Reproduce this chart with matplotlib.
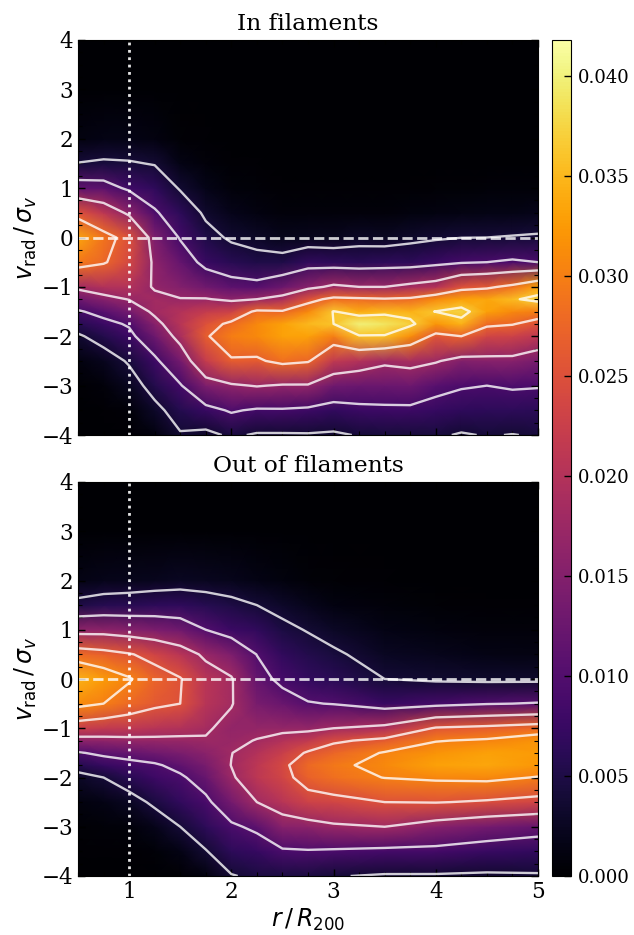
import matplotlib

matplotlib.use("Agg")
import matplotlib.pyplot as plt
import numpy as np
from matplotlib.ticker import MultipleLocator

plt.rcParams["font.family"] = "DejaVu Serif"

# velocity rows shared by both panels
v_grid = [-4, -3.5, -3, -2.5, -2, -1.75, -1.5, -1.25, -1, -0.5, 0, 0.5, 1, 1.5, 2, 3, 4]

r_top = [0.5, 0.75, 1, 1.25, 1.5, 1.75, 2, 2.25, 2.5, 2.75, 3, 3.25, 3.5, 3.75, 4, 4.25, 4.5, 4.75, 5]
r_bottom = [0.5, 0.75, 1, 1.25, 1.5, 1.75, 2, 2.25, 2.5, 2.75, 3, 3.5, 4, 4.5, 5]

# density, in units of 1e-3, one line per r column
density_top = [
    [0.05, 0.1, 0.3, 1, 3.5, 5.8, 8.5, 12.8, 18.2, 29.5, 33.5, 25, 11.4, 4.1, 1.2, 0.05, 0],
    [0.1, 0.2, 0.7, 2.2, 5.5, 7.7, 10.5, 15.4, 19.8, 27.5, 29, 21, 11, 4.5, 1.5, 0.05, 0],
    [0.2, 0.5, 2.3, 4.4, 7.8, 9.5, 13.5, 17.2, 20, 24, 25, 16, 8.2, 4.3, 1.6, 0.05, 0],
    [1, 3, 5.4, 8, 12.7, 15.4, 18, 18.2, 16.5, 16, 14.5, 9.5, 6.6, 3.8, 1.3, 0.03, 0],
    [3.7, 5.6, 8.6, 13.5, 18.8, 20.5, 20, 17.2, 15, 12, 8.6, 6.5, 3.7, 1.5, 0.4, 0.02, 0],
    [3, 7.5, 14.5, 22, 26.5, 25, 22, 17.3, 13, 7.5, 5.2, 3.4, 1.7, 0.7, 0.2, 0.01, 0],
    [4.6, 9.5, 16.3, 26.5, 30, 28, 23, 16, 11, 6, 3.5, 1.8, 0.8, 0.3, 0.1, 0, 0],
    [3.6, 8.4, 17.3, 26.2, 31, 31, 28, 17, 10.4, 5.2, 2.8, 1.2, 0.5, 0.2, 0.05, 0, 0],
    [3.6, 8.5, 16.5, 28.5, 33, 33, 27.5, 19, 12.5, 5.2, 2, 0.8, 0.3, 0.1, 0.03, 0, 0],
    [3.7, 8, 16.5, 27.5, 33, 35, 31, 25, 15.5, 6.8, 2.2, 0.8, 0.3, 0.1, 0.03, 0, 0],
    [3.5, 7, 13, 21.5, 30, 36, 36.2, 28.5, 18, 6.4, 2.2, 0.7, 0.25, 0.08, 0.02, 0, 0],
    [4.2, 7.8, 12.5, 20, 35.7, 40, 34, 28, 17, 6.2, 2.8, 0.8, 0.3, 0.1, 0.02, 0, 0],
    [4.4, 8, 12.5, 18, 35.7, 39, 35, 27.5, 17, 6.5, 2.6, 0.7, 0.3, 0.1, 0.02, 0, 0],
    [4.4, 8, 12.8, 18.8, 31.5, 37, 34.5, 28, 18.5, 6.5, 3.2, 1, 0.3, 0.1, 0.02, 0, 0],
    [4.5, 7.2, 10.5, 17.5, 25.5, 32, 36.1, 31, 20, 7.5, 3.6, 1.2, 0.4, 0.1, 0.02, 0, 0],
    [3.7, 6.6, 9.4, 15, 27, 34.5, 37.5, 33, 25, 8.5, 3.95, 1.4, 0.4, 0.1, 0.02, 0, 0],
    [4.2, 6.5, 9, 15.5, 23.5, 28, 33, 33.5, 26, 9, 4, 1.5, 0.5, 0.1, 0.02, 0, 0],
    [3.9, 6.5, 9.5, 15.5, 23, 27.3, 31, 35.4, 28.5, 9.6, 4.2, 1.6, 0.5, 0.1, 0.02, 0, 0],
    [4.3, 6.3, 9.3, 13.8, 21, 25, 30, 37.5, 33, 9, 4.4, 1.8, 0.6, 0.1, 0.02, 0, 0],
]

density_bottom = [
    [0.1, 0.2, 0.4, 1, 2.8, 5.6, 9.6, 16, 22.4, 31.2, 34.5, 28, 15.9, 5, 1.5, 0.1, 0],
    [0.1, 0.25, 0.6, 1.5, 4, 7.3, 11, 16.3, 21.7, 30, 32.5, 26.9, 16, 5.8, 1.8, 0.1, 0],
    [0.1, 0.2, 0.8, 2.5, 6, 8.5, 11.9, 16.7, 21.3, 27.9, 30.4, 25.4, 15.2, 6, 2, 0.1, 0],
    [0.1, 0.5, 1.8, 4.7, 7.9, 9.4, 13, 16.9, 20.5, 26, 27.4, 23.3, 14.3, 6.5, 2.2, 0.1, 0],
    [0.2, 1.5, 4, 6.7, 9.3, 11.4, 14.2, 17, 19.8, 25, 25.3, 20.7, 13, 6.6, 2.5, 0.1, 0],
    [1, 3.8, 6.4, 9, 12.2, 14, 15.8, 17.6, 18.6, 20.5, 20.6, 17, 10, 5.8, 2.4, 0.1, 0],
    [3.8, 6.4, 9.2, 13.5, 17.4, 18.1, 17.9, 17, 16.5, 18.3, 18.4, 14.5, 7.8, 5, 2, 0.1, 0],
    [4.6, 7.2, 11, 18, 21, 21, 20, 18.2, 16.7, 14, 12, 9.9, 6.8, 4, 1.5, 0.05, 0],
    [4.8, 9.3, 15.5, 20.5, 23.5, 24, 22.5, 20, 16.7, 12.3, 8.7, 6.8, 4.8, 3, 1, 0.05, 0],
    [4.6, 9.6, 16, 23, 27, 27.8, 25.5, 21.5, 16.8, 10.3, 7, 5.5, 3.8, 2, 0.6, 0.03, 0],
    [4.2, 9.3, 17.2, 23.5, 28.5, 29.3, 27.5, 24.2, 18, 9.8, 6.2, 4.5, 2.8, 1.3, 0.4, 0.02, 0],
    [3.6, 8.7, 18, 25, 30.1, 31, 30.3, 26.3, 19.5, 7.5, 4, 2.6, 1.5, 0.7, 0.2, 0, 0],
    [3.6, 8.5, 15.5, 25.2, 30.7, 33, 32, 29.8, 25.5, 8.5, 3.5, 2, 1, 0.4, 0.1, 0, 0],
    [3.4, 7.5, 13.5, 24.5, 31, 33.5, 33, 30.5, 26.5, 9.7, 3.2, 1.6, 0.8, 0.3, 0.1, 0, 0],
    [3.6, 7, 12, 23.5, 29.8, 32.3, 32.5, 32, 28, 10.3, 3.2, 1.4, 0.7, 0.3, 0.1, 0, 0],
]

levels_top = [4, 9, 17, 27, 36]
levels_bottom = [4, 10, 18, 25, 30]

titles = ["In filaments", "Out of filaments"]
vmax = 41.8
cbar_ticks = [0, 5, 10, 15, 20, 25, 30, 35, 40]
cbar_labels = ["0.000", "0.005", "0.010", "0.015", "0.020", "0.025", "0.030", "0.035", "0.040"]


def draw_panel(ax, r, density, levels, title):
    z = np.array(density).T
    mesh = ax.pcolormesh(r, v_grid, z, shading="gouraud", cmap="inferno", vmin=0, vmax=vmax)
    ax.contour(r, v_grid, z, levels=levels, colors="white", linewidths=1.7, alpha=0.8)
    ax.axhline(0, color="white", ls="--", lw=2, alpha=0.8)
    ax.axvline(1, color="white", ls=":", lw=2, alpha=0.9)
    ax.set_xlim(0.5, 5)
    ax.set_ylim(-4, 4)
    ax.set_xticks([1, 2, 3, 4, 5])
    ax.set_yticks(range(-4, 5))
    ax.xaxis.set_minor_locator(MultipleLocator(0.25))
    ax.yaxis.set_minor_locator(MultipleLocator(0.25))
    ax.tick_params(which="both", direction="in", top=True, right=True, labelsize=15.5)
    ax.tick_params(which="major", length=5, width=1)
    ax.tick_params(which="minor", length=3, width=0.8)
    ax.set_ylabel(r"$v_{\rm rad}\,/\,\sigma_v$", fontsize=17, labelpad=2)
    ax.set_title(title, fontsize=16.8, pad=7)
    return mesh


fig = plt.figure(figsize=(6.34, 9.35), dpi=100)
ax_top = fig.add_axes([78 / 634, 500 / 935, 460 / 634, 395 / 935])
ax_bottom = fig.add_axes([78 / 634, 59 / 935, 460 / 634, 394 / 935])
cax = fig.add_axes([552 / 634, 59 / 935, 19 / 634, 836 / 935])

mesh = draw_panel(ax_top, r_top, density_top, levels_top, titles[0])
draw_panel(ax_bottom, r_bottom, density_bottom, levels_bottom, titles[1])
ax_top.tick_params(labelbottom=False)
ax_bottom.set_xlabel(r"$r\,/\,R_{200}$", fontsize=17, labelpad=3)

cbar = fig.colorbar(mesh, cax=cax)
cbar.set_ticks(cbar_ticks, labels=cbar_labels)
cbar.ax.tick_params(direction="in", length=5, width=1, labelsize=13, pad=5)

fig.savefig("out.png", dpi=100)
